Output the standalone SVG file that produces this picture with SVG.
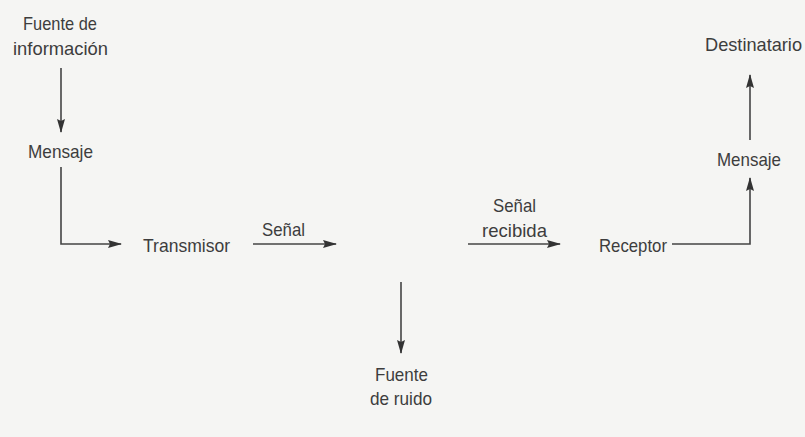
<svg xmlns="http://www.w3.org/2000/svg" width="805" height="437" viewBox="0 0 805 437">
<style>
text{font-family:"Liberation Sans",Arial,sans-serif;font-size:19px;fill:#3d3d3d;}
.ln{stroke:#444;stroke-width:1.6;fill:none;}
</style>
<defs>
<marker id="ah" markerWidth="14" markerHeight="8" refX="13" refY="4" orient="auto" markerUnits="userSpaceOnUse">
<path d="M0,0 L14,4 L0,8 L2,4 Z" fill="#333"/>
</marker>
</defs>
<rect width="805" height="437" fill="#f5f5f3"/>
<g id="connectors">
<path class="ln" d="M61,68 L61,132" marker-end="url(#ah)"/>
<path class="ln" d="M61,167 L61,244 L121,244" marker-end="url(#ah)"/>
<path class="ln" d="M253,244 L336,244" marker-end="url(#ah)"/>
<path class="ln" d="M468,244 L560,244" marker-end="url(#ah)"/>
<path class="ln" d="M672,244 L750,244 L750,178" marker-end="url(#ah)"/>
<path class="ln" d="M750,140 L750,75" marker-end="url(#ah)"/>
<path class="ln" d="M401,282 L401,353" marker-end="url(#ah)"/>
</g>
<g id="fuente-info"><text x="23" y="30" textLength="74" lengthAdjust="spacingAndGlyphs">Fuente de</text><text x="13" y="55" textLength="95" lengthAdjust="spacingAndGlyphs">información</text></g>
<g id="mensaje1"><text x="28" y="158" textLength="65" lengthAdjust="spacingAndGlyphs">Mensaje</text></g>
<g id="transmisor"><text x="143" y="252" textLength="87" lengthAdjust="spacingAndGlyphs">Transmisor</text></g>
<g id="senal"><text x="262" y="236" textLength="43" lengthAdjust="spacingAndGlyphs">Señal</text></g>
<g id="senal-recibida"><text x="493" y="212" textLength="43" lengthAdjust="spacingAndGlyphs">Señal</text><text x="482" y="237" textLength="65" lengthAdjust="spacingAndGlyphs">recibida</text></g>
<g id="receptor"><text x="599" y="252" textLength="68" lengthAdjust="spacingAndGlyphs">Receptor</text></g>
<g id="mensaje2"><text x="717" y="166" textLength="64" lengthAdjust="spacingAndGlyphs">Mensaje</text></g>
<g id="destinatario"><text x="705" y="51" textLength="97" lengthAdjust="spacingAndGlyphs">Destinatario</text></g>
<g id="fuente-ruido"><text x="375" y="381" textLength="53" lengthAdjust="spacingAndGlyphs">Fuente</text><text x="370" y="405" textLength="62" lengthAdjust="spacingAndGlyphs">de ruido</text></g>
</svg>
